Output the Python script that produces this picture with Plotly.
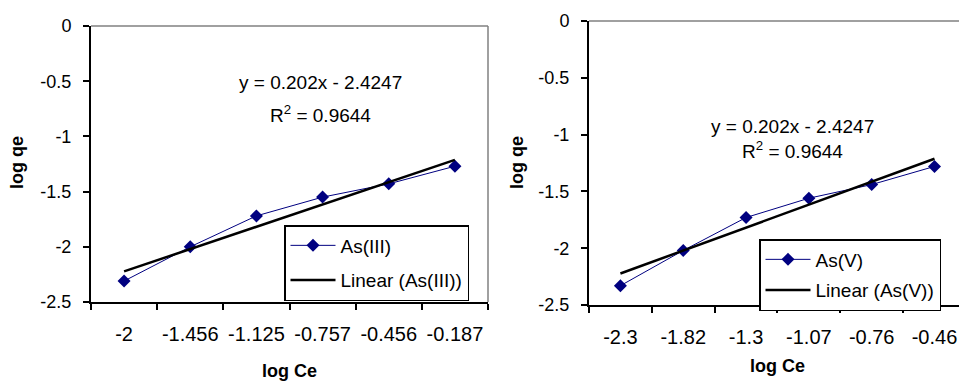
import plotly.graph_objects as go

# ---- data ----
left_categories = ["-2", "-1.456", "-1.125", "-0.757", "-0.456", "-0.187"]
left_values = [-2.31, -2.00, -1.72, -1.55, -1.43, -1.27]
left_trend_x = ["-2", "-0.187"]
left_trend_y = [-2.2227, -1.2127]

right_categories = ["-2.3", "-1.82", "-1.3", "-1.07", "-0.76", "-0.46"]
right_values = [-2.33, -2.02, -1.73, -1.56, -1.44, -1.28]
right_trend_x = ["-2.3", "-0.46"]
right_trend_y = [-2.2227, -1.2127]

y_tick_vals = [0, -0.5, -1, -1.5, -2, -2.5]
y_tick_text = ["0", "-0.5", "-1", "-1.5", "-2", "-2.5"]

W, H = 959, 385
FONT = "Liberation Sans, Arial, sans-serif"
NAVY = "#000080"

fig = go.Figure()

fig.add_trace(go.Scatter(x=left_categories, y=left_values, mode="lines+markers",
                         name="As(III)", line=dict(color=NAVY, width=1),
                         marker=dict(symbol="diamond", size=10, color=NAVY),
                         xaxis="x", yaxis="y", legend="legend", legendgroup="a"))
fig.add_trace(go.Scatter(x=left_trend_x, y=left_trend_y, mode="lines",
                         name="Linear (As(III))", line=dict(color="black", width=2.5),
                         xaxis="x", yaxis="y", legend="legend", legendgroup="b"))
fig.add_trace(go.Scatter(x=right_categories, y=right_values, mode="lines+markers",
                         name="As(V)", line=dict(color=NAVY, width=1),
                         marker=dict(symbol="diamond", size=10, color=NAVY),
                         xaxis="x2", yaxis="y2", legend="legend2", legendgroup="c"))
fig.add_trace(go.Scatter(x=right_trend_x, y=right_trend_y, mode="lines",
                         name="Linear (As(V))", line=dict(color="black", width=2.5),
                         xaxis="x2", yaxis="y2", legend="legend2", legendgroup="d"))

def xaxis_cfg(domain, rng):
    return dict(domain=domain, type="category", range=rng, showline=True,
                linecolor="black", linewidth=2, ticks="outside", tickson="boundaries",
                ticklen=6, tickwidth=2, tickcolor="black", showgrid=False,
                zeroline=False, ticklabelstandoff=13, automargin=False, tickangle=0,
                tickfont=dict(size=20, color="black"))

def yaxis_cfg(domain, anchor):
    return dict(domain=domain, anchor=anchor, range=[-2.5, 0], tickvals=y_tick_vals,
                ticktext=y_tick_text, showline=True, linecolor="black", linewidth=2,
                ticks="outside", ticklen=6, tickwidth=2, tickcolor="black",
                showgrid=False, zeroline=False, automargin=False,
                ticklabelstandoff=8, tickfont=dict(size=18, color="black"))

lx0, lx1 = 91 / W, 488 / W
ly0, ly1 = (H - 302) / H, (H - 26) / H
rx0, rx1 = 589 / W, 1.0
ry0, ry1 = (H - 305) / H, (H - 21) / H

fig.update_layout(
    width=W, height=H, margin=dict(l=0, r=0, t=0, b=0),
    paper_bgcolor="white", plot_bgcolor="white",
    font=dict(family=FONT, color="black", size=18),
    xaxis=dict(xaxis_cfg([lx0, lx1], [-0.5, 5.5]), anchor="y"),
    yaxis=yaxis_cfg([ly0, ly1], "x"),
    xaxis2=dict(xaxis_cfg([rx0, rx1], [-0.5, 5.39]), anchor="y2"),
    yaxis2=yaxis_cfg([ry0, ry1], "x2"),
    legend=dict(x=284 / W, y=(H - 225) / H, xanchor="left", yanchor="top",
                bordercolor="black", borderwidth=1.5, bgcolor="white",
                font=dict(size=19), traceorder="grouped", tracegroupgap=7, itemwidth=45),
    legend2=dict(x=759 / W, y=(H - 239) / H, xanchor="left", yanchor="top",
                 bordercolor="black", borderwidth=1.5, bgcolor="white",
                 font=dict(size=19), traceorder="grouped", tracegroupgap=3, itemwidth=45),
    showlegend=True,
)

# plot-area borders (top/right) in grey
fig.add_shape(type="line", xref="x domain", yref="y domain", x0=0, x1=1, y0=1, y1=1,
              line=dict(color="#808080", width=1.5))
fig.add_shape(type="line", xref="x domain", yref="y domain", x0=1, x1=1, y0=0, y1=1,
              line=dict(color="#808080", width=1.5))
fig.add_shape(type="line", xref="x2 domain", yref="y2 domain", x0=0, x1=1, y0=1, y1=1,
              line=dict(color="#808080", width=1.5))

def px(xp, yp):
    return xp / W, (H - yp) / H

anns = [
    ("y = 0.202x - 2.4247", 320, 83, 19, False),
    ("R<sup>2</sup> = 0.9644", 320, 114, 19, False),
    ("y = 0.202x - 2.4247", 792, 126, 19, False),
    ("R<sup>2</sup> = 0.9644", 792, 150, 19, False),
    ("<b>log Ce</b>", 289, 371, 18, False),
    ("<b>log Ce</b>", 777, 366, 18, False),
    ("<b>log qe</b>", 17, 163, 18, True),
    ("<b>log qe</b>", 517, 163, 18, True),
]
for text, xp, yp, fs, rot in anns:
    ax, ay = px(xp, yp)
    fig.add_annotation(text=text, x=ax, y=ay, xref="paper", yref="paper",
                       showarrow=False, xanchor="center", yanchor="middle",
                       textangle=-90 if rot else 0, font=dict(size=fs, color="black"))

fig.write_html("out.html", config={"displayModeBar": False},
               post_script="document.body.style.margin='0';document.body.style.padding='0';")
